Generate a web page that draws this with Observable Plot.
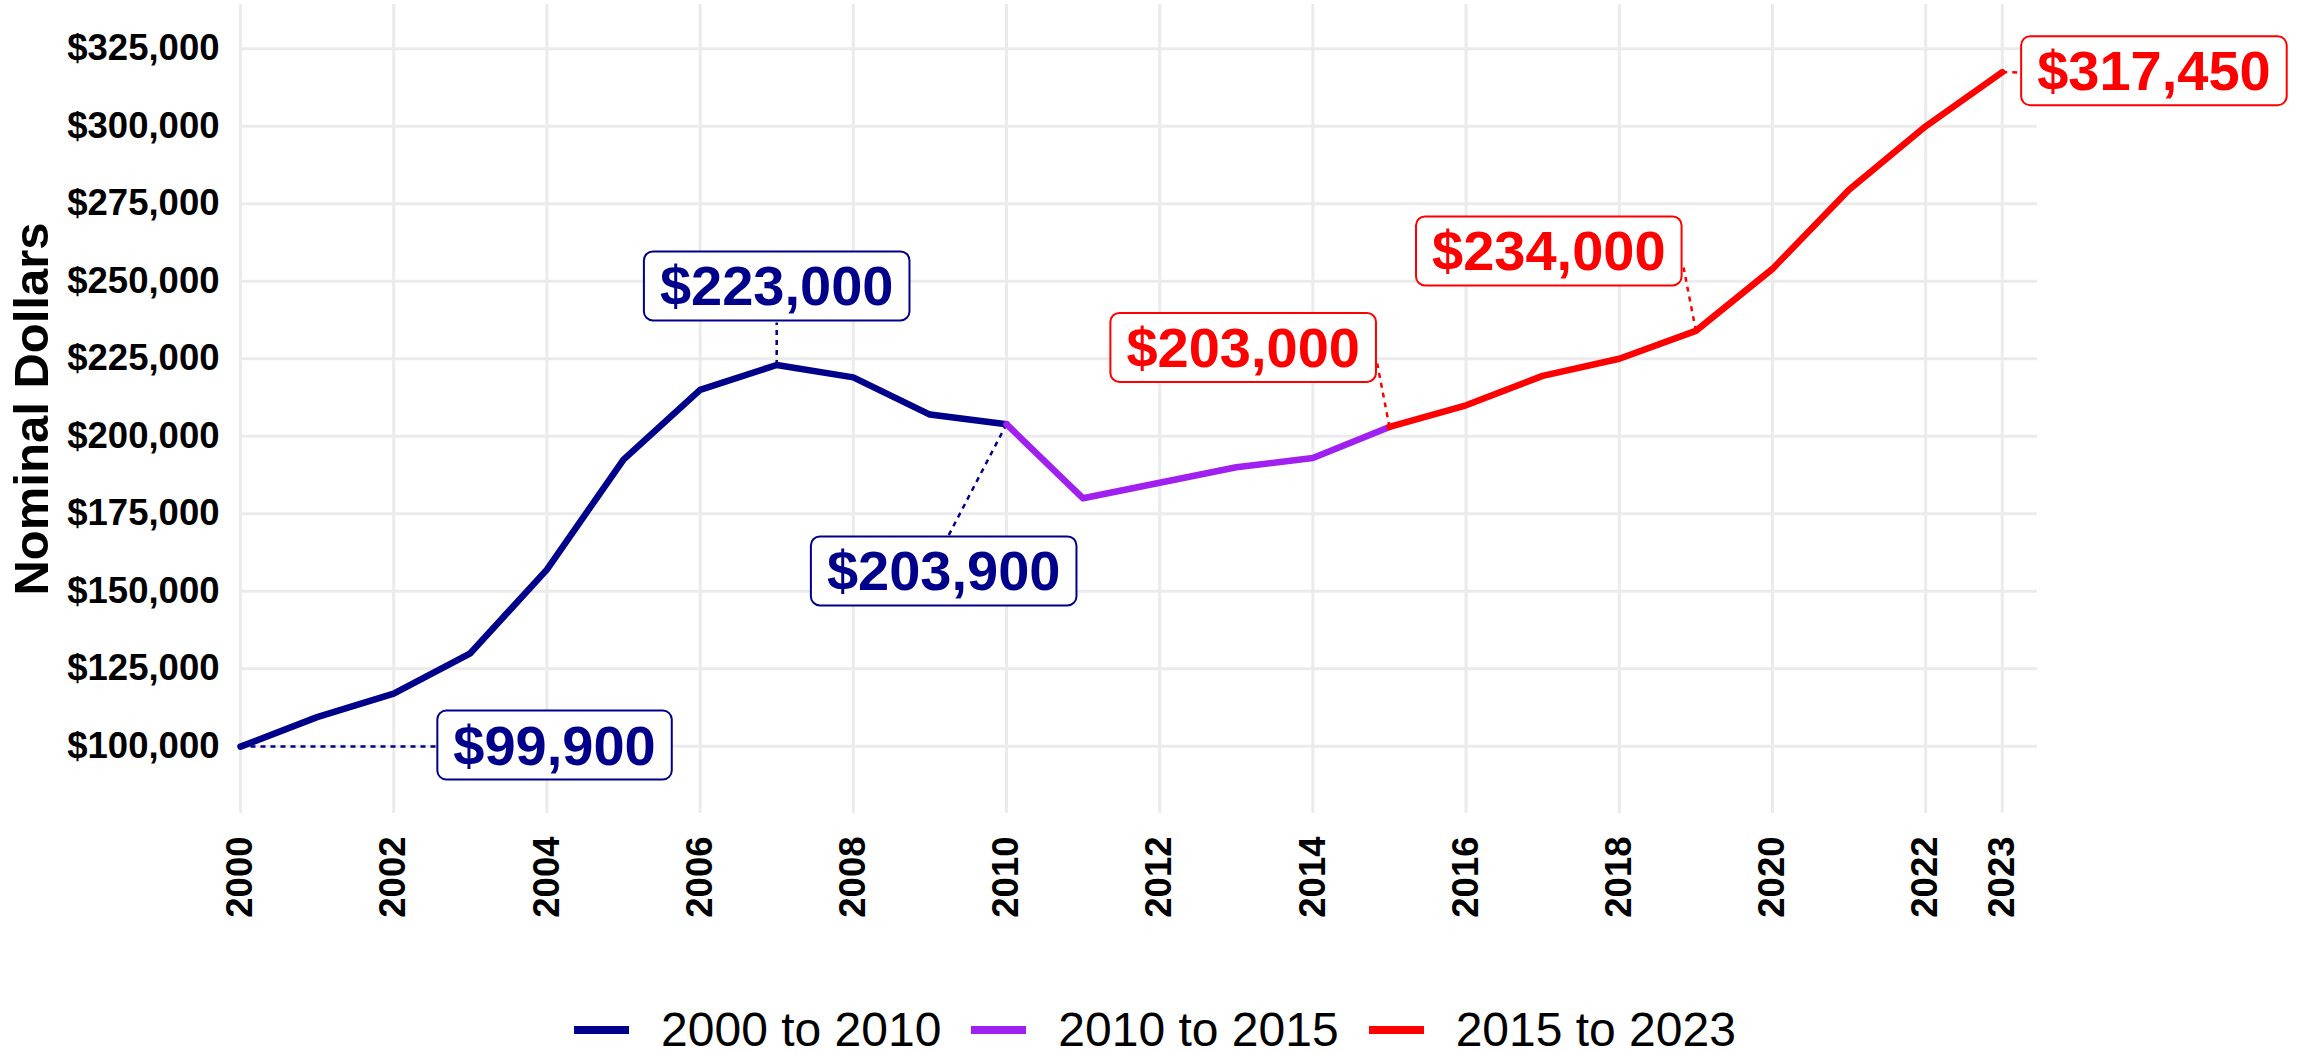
<!DOCTYPE html>
<html><head><meta charset="utf-8">
<script src="https://cdn.jsdelivr.net/npm/d3@7"></script>
<script src="https://cdn.jsdelivr.net/npm/@observablehq/plot@0.6"></script>
<style>
html,body{margin:0;padding:0;background:#fff;overflow:hidden;}
body{font-family:"Liberation Sans",Arial,sans-serif;width:2302px;height:1052px;}
#legend{box-sizing:border-box;height:72px;padding-top:28px;padding-left:8px;display:flex;justify-content:center;align-items:center;}
#legend .sw{display:inline-block;width:55px;height:8px;margin-right:32px;}
#legend .lb{font-size:48px;color:#000;margin-right:30px;line-height:44px;}
#legend .lb:last-child{margin-right:0;}
</style></head>
<body><div id="chart"></div><div id="legend"></div>
<script>
// ---- data ----
const years = [2000,2001,2002,2003,2004,2005,2006,2007,2008,2009,2010,2011,2012,2013,2014,2015,2016,2017,2018,2019,2020,2021,2022,2023];
const values = [99900,109400,117000,130000,157000,192500,215000,223000,219000,207000,203900,180000,185000,190000,193000,203000,210000,219500,225000,234000,254000,279500,300000,317450];
const periodNames = ["2000 to 2010","2010 to 2015","2015 to 2023"];
const periodStart = [2000,2010,2015];
const periodEnd = [2010,2015,2023];
const periodColors = ["#00008B","#A020F0","#FF0000"];
const xTicks = [2000,2002,2004,2006,2008,2010,2012,2014,2016,2018,2020,2022,2023];
const yTicks = [100000,125000,150000,175000,200000,225000,250000,275000,300000,325000];
const yTitle = "Nominal Dollars";

// annotated points
const labelYears = [2000,2007,2010,2015,2019,2023];
const labelValues = [99900,223000,203900,203000,234000,317450];
const labelPeriods = ["2000 to 2010","2000 to 2010","2000 to 2010","2015 to 2023","2015 to 2023","2015 to 2023"];

// label placement (repel result, in data units)
const boxYear = [2004.10,2007.0,2009.18,2013.09,2017.08,2024.98];
const boxValue = [99900,248000,156060,228160,259290,317400];
const leadYear = [2002.58,2007.0,2009.23,2014.84,2018.84,2023.25];
const leadValue = [99900,236700,167350,223470,254450,317350];

const fmt = d => "$" + d3.format(",")(d);

const lineData = periodNames.flatMap((p,i) =>
  years.map((y,j) => ({year:y, value:values[j], period:p}))
       .filter(d => d.year >= periodStart[i] && d.year <= periodEnd[i]));

const labels = labelYears.map((y,i) => ({
  year:y, value:labelValues[i], period:labelPeriods[i],
  bx:boxYear[i], by:boxValue[i], ex:leadYear[i], ey:leadValue[i]
}));

const chart = Plot.plot({
  width: 2302, height: 980,
  marginTop: 4, marginBottom: 167, marginLeft: 240, marginRight: 265,
  x: {domain: [2000, 2023.46]},
  y: {domain: [78320, 339290]},
  color: {domain: periodNames, range: periodColors},
  style: {fontFamily: "'Liberation Sans', Arial, sans-serif", background: "white", color: "black"},
  marks: [
    Plot.gridY(yTicks, {stroke: "#EBEBEB", strokeOpacity: 1, strokeWidth: 3}),
    Plot.gridX(xTicks, {stroke: "#EBEBEB", strokeOpacity: 1, strokeWidth: 3}),
    Plot.axisY(yTicks, {tickSize: 0, tickPadding: 21, tickFormat: fmt, fontSize: 36.5, fontWeight: "bold", label: null}),
    Plot.axisY({ticks: [], label: yTitle, labelArrow: "none", labelAnchor: "center", labelOffset: 227, fontSize: 49, fontWeight: "bold"}),
    Plot.axisX(xTicks, {tickRotate: -90, tickSize: 0, tickPadding: 23, tickFormat: d => String(d), fontSize: 36.5, fontWeight: "bold", label: null}),
    Plot.link(labels, {x1: "year", y1: "value", x2: "ex", y2: "ey", stroke: "period", strokeWidth: 2.5, strokeDasharray: "5,5"}),
    Plot.line(lineData, {x: "year", y: "value", z: "period", stroke: "period", strokeWidth: 6.5, strokeLinejoin: "round"}),
    Plot.text(labels, {x: "bx", y: "by", text: d => fmt(d.value), fill: "period", fontSize: 56, fontWeight: "bold", className: "anno"})
  ]
});
document.getElementById("chart").append(chart);

// label boxes behind the label texts
const ns = "http://www.w3.org/2000/svg";
let annoTexts = chart.querySelectorAll("g.anno text");
if (!annoTexts.length) {
  const gs = chart.querySelectorAll('g[aria-label="text"]');
  annoTexts = gs.length ? gs[gs.length - 1].querySelectorAll("text") : [];
}
annoTexts.forEach(t => {
  const b = t.getBBox();
  const r = document.createElementNS(ns, "rect");
  r.setAttribute("x", b.x - 16);
  r.setAttribute("y", b.y - 3);
  r.setAttribute("width", b.width + 32);
  r.setAttribute("height", b.height + 6);
  r.setAttribute("rx", 9);
  r.setAttribute("fill", "white");
  r.setAttribute("stroke", t.getAttribute("fill") || "black");
  r.setAttribute("stroke-width", 2);
  const tr = t.getAttribute("transform");
  if (tr) r.setAttribute("transform", tr);
  t.parentNode.insertBefore(r, t);
});

// legend
const legend = document.getElementById("legend");
periodNames.forEach((p, i) => {
  const sw = document.createElement("span");
  sw.className = "sw"; sw.style.background = periodColors[i];
  const lb = document.createElement("span");
  lb.className = "lb"; lb.textContent = p;
  legend.append(sw, lb);
});
</script>
</body></html>
